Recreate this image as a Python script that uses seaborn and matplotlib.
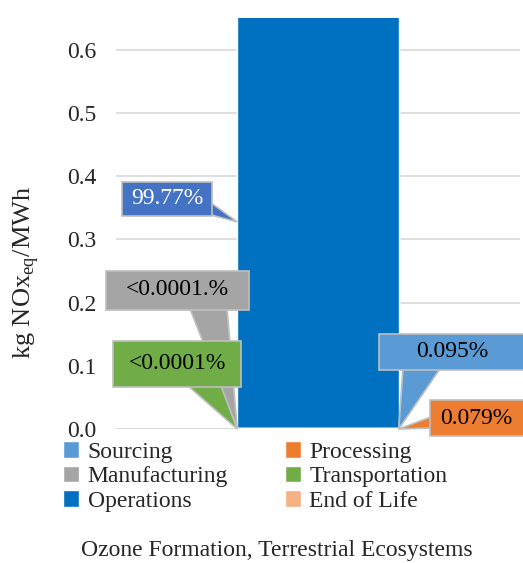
import matplotlib.pyplot as plt
from matplotlib.patches import Polygon, Rectangle
import seaborn as sns
import pandas as pd

# stage contributions (kg NOx eq / MWh)
stages = ["Sourcing", "Processing", "Manufacturing", "Transportation", "Operations", "End of Life"]
values = [0.00062, 0.00052, 0.0000005, 0.0000005, 0.653, 0.0]
colors = ["#5B9BD5", "#ED7D31", "#A5A5A5", "#70AD47", "#0070C0", "#F4B183"]
category = "Ozone Formation, Terrestrial Ecosystems"
pct_labels = {"Operations": "99.77%", "Manufacturing": "<0.0001.%", "Transportation": "<0.0001%",
              "Sourcing": "0.095%", "Processing": "0.079%"}

sns.set_style("white")
plt.rcParams["font.family"] = ["Liberation Serif", "DejaVu Serif"]

df = pd.DataFrame({"stage": stages, "value": values, "color": colors})
df["top"] = df["value"].cumsum()
df["x"] = category

fig = plt.figure(figsize=(5.23, 5.63), dpi=100)
ax = fig.add_axes([0.222, 0.238, 0.772, 0.730])

# stacked bar: draw cumulative totals from the top segment down
handles = {}
for i in reversed(range(len(df))):
    row = df.iloc[i]
    sns.barplot(x=[row["x"]], y=[row["top"]], color=row["color"], saturation=1,
                width=0.4, ax=ax, zorder=3)
    handles[row["stage"]] = ax.containers[-1]

ax.set_xlim(-0.5, 0.5)
ax.set_ylim(0, 0.65)
ticks = [0.0, 0.1, 0.2, 0.3, 0.4, 0.5, 0.6]
ax.set_yticks(ticks)
ax.set_yticklabels(["%.1f" % t for t in ticks], fontsize=17)
ax.set_xticks([])
ax.set_xlabel("")
ax.yaxis.grid(True, color="#D9D9D9", linewidth=1.2, zorder=0)
ax.set_axisbelow(True)
for s in ax.spines.values():
    s.set_visible(False)
ax.axhline(0, color="#D9D9D9", linewidth=1.2, zorder=1)
ax.tick_params(axis="y", length=0, pad=14)
ax.set_ylabel("kg NOx$_{\\mathregular{eq}}$/MWh", fontsize=19)
ax.yaxis.set_label_coords(-0.185, 0.38)
fig.text(0.53, 0.023, category, ha="center", va="center", fontsize=17)


# callout geometry is laid out in pixels of the axes box, converted to data
def px(x, y):
    return ((x - 116) / 404 - 0.5, (429 - y) / 632)


bar_left, bar_right = -0.2, 0.2
ops = stages.index("Operations")
ops_mid = df["top"][ops] - values[ops] / 2
callouts = [
    # stage, box (x0, y0, x1, y1) px, wedge base points px, tip (data), text centre px, face, text colour
    ("Operations", (122, 182, 212, 216), [(211, 203), (211, 215)], (bar_left, ops_mid), (167, 199), "#4472C4", "white"),
    ("Manufacturing", (106, 271, 249, 310), [(190, 309), (227, 309)], (bar_left, 0.0), (177, 290), "#A5A5A5", "black"),
    ("Transportation", (113, 341, 241, 387), [(188, 386), (221, 386)], (bar_left, 0.0), (177, 364), "#70AD47", "black"),
    ("Sourcing", (379, 334, 530, 370), [(403, 369), (440, 369)], (bar_right, 0.0), (452, 352), "#5B9BD5", "black"),
    ("Processing", (430, 400, 530, 436), [(431, 417), (431, 428)], (bar_right, 0.0), (476, 418), "#ED7D31", "black"),
]
z = 5
for st, box, base, tip, tc, fc, col in callouts:
    pts = [px(*base[0]), tip, px(*base[1])]
    ax.add_patch(Polygon(pts, closed=True, fc=fc, ec="#BFBFBF", lw=1.2, clip_on=False, zorder=z))
    x0, y0 = px(box[0], box[3])
    x1, y1 = px(box[2], box[1])
    ax.add_patch(Rectangle((x0, y0), x1 - x0, y1 - y0, fc=fc, ec="#BFBFBF", lw=1.2,
                           clip_on=False, zorder=z + 0.1))
    ax.text(*px(*tc), pct_labels[st], ha="center", va="center", fontsize=17, color=col,
            zorder=z + 0.2, clip_on=False)
    z += 1

order = ["Sourcing", "Manufacturing", "Operations", "Processing", "Transportation", "End of Life"]
fig.legend([handles[s] for s in order], order, ncol=2,
           loc="upper left", bbox_to_anchor=(0.12, 0.216), frameon=False, fontsize=17,
           handlelength=0.7, handleheight=0.7, handletextpad=0.35, columnspacing=2.4,
           labelspacing=0.12, borderaxespad=0, borderpad=0)

plt.savefig("out.png", dpi=100)
